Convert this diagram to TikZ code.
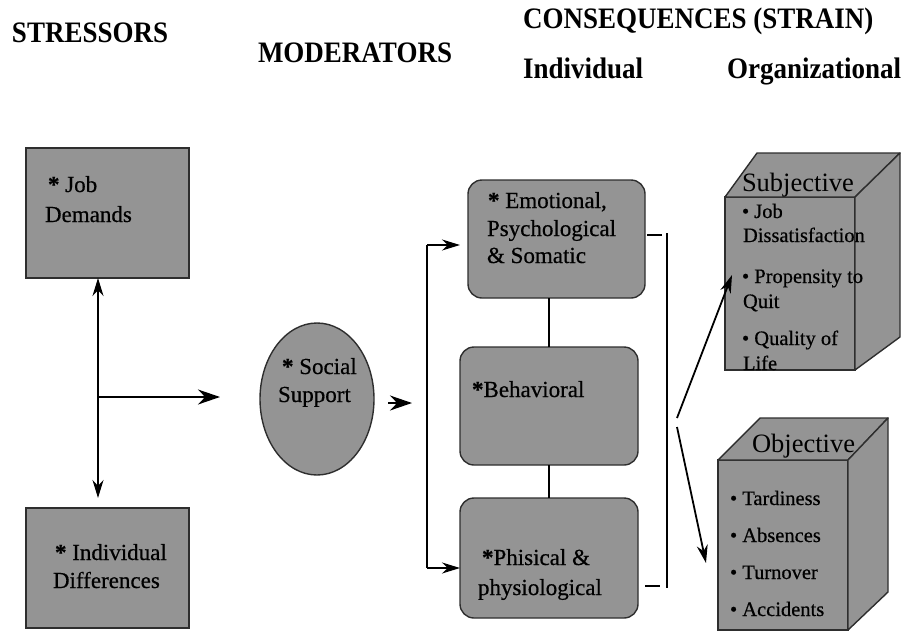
\documentclass[tikz,border=0pt]{standalone}
\usepackage{fontspec}
\setmainfont{Liberation Serif}
\newfontfamily\scanserif{Liberation Serif}[FakeBold=0.5]
\usetikzlibrary{arrows.meta,shapes.geometric}
\definecolor{boxgray}{gray}{0.58}
\definecolor{edgegray}{gray}{0.18}
\newcommand{\stressstar}{\textbf{*}}
\begin{document}
\begin{tikzpicture}[x=1pt,y=-1pt,
  every node/.style={inner sep=0pt, outer sep=0pt},
  head/.style={anchor=base west, font=\fontsize{27}{30}\selectfont\bfseries},
  body/.style={anchor=base west, font=\fontsize{23}{28}\selectfont\scanserif},
  item/.style={anchor=base west, font=\fontsize{20.5}{24}\selectfont\scanserif},
  cubetitle/.style={anchor=base west, font=\fontsize{26.5}{30}\selectfont},
  sqbox/.style={draw=edgegray, line width=1.4pt, fill=boxgray, rectangle},
  rbox/.style={sqbox, rounded corners=14pt},
  face/.style={draw=edgegray, line width=1.4pt, fill=boxgray, line join=round},
  conn/.style={line width=1.6pt},
  arr/.style={line width=1.8pt, -{Stealth[length=18pt,width=11pt]}},
  bigarr/.style={line width=1.8pt, -{Stealth[length=22pt,width=15pt]}},
]
\useasboundingbox (0,0) rectangle (910,632);

% headings
\node[head] (hs) at (12,42) {\scalebox{1}[1.1]{STRESSORS}};
\node[head] (hm) at (258,62) {\scalebox{1}[1.1]{MODERATORS}};
\node[head] (hc) at (523,28) {\scalebox{1}[1.1]{CONSEQUENCES (STRAIN)}};
\node[head] (hi) at (523,78) {\scalebox{1}[1.1]{Individual}};
\node[head] (ho) at (727,78) {\scalebox{1}[1.1]{Organizational}};

% stressors
\node[sqbox, minimum width=163pt, minimum height=130pt] (jd) at (107.5,213) {};
\node[body] (jd1) at (48,192) {\stressstar\ Job};
\node[body] (jd2) at (45,222) {Demands};
\node[sqbox, minimum width=163pt, minimum height=120pt] (id) at (107.5,568) {};
\node[body] (id1) at (55,560) {\stressstar\ Individual};
\node[body] (id2) at (53,588) {Differences};

% moderator
\node[draw=edgegray, line width=1.4pt, fill=boxgray, ellipse, minimum width=114pt, minimum height=152pt] (ss) at (317,399) {};
\node[body] (ss1) at (282,374) {\stressstar\ Social};
\node[body] (ss2) at (278,402) {Support};

% individual consequences
\node[rbox, minimum width=177pt, minimum height=118pt] (emo) at (556.5,239) {};
\node[body] (emo1) at (488,208) {\stressstar\ Emotional,};
\node[body] (emo2) at (487,236) {Psychological};
\node[body] (emo3) at (487,263) {\& Somatic};
\node[rbox, minimum width=178pt, minimum height=118pt] (beh) at (549,406) {};
\node[body] (beh1) at (472,397) {\stressstar Behavioral};
\node[rbox, minimum width=178pt, minimum height=120pt] (phy) at (549,558) {};
\node[body] (phy1) at (482,565) {\stressstar Phisical \&};
\node[body] (phy2) at (478,595) {physiological};

% subjective cube
\node[sqbox, minimum width=130pt, minimum height=173pt] (subj) at (790,283.5) {};
\filldraw[face] (subj.north west) -- (757,153) -- (900,153) -- (subj.north east) -- cycle;
\filldraw[face] (subj.north east) -- (900,153) -- (900,337) -- (subj.south east) -- cycle;
\node[cubetitle] (st) at (742,191) {Subjective};
\node[item] (s1) at (742,218) {\textbullet\ Job};
\node[item] (s2) at (743,242) {Dissatisfaction};
\node[item] (s3) at (742,283) {\textbullet\ Propensity to};
\node[item] (s4) at (743,308) {Quit};
\node[item] (s5) at (742,345) {\textbullet\ Quality of};
\node[item] (s6) at (743,370) {Life};

% objective cube
\node[sqbox, minimum width=130pt, minimum height=170pt] (obj) at (783,545) {};
\filldraw[face] (obj.north west) -- (760,418) -- (888,418) -- (obj.north east) -- cycle;
\filldraw[face] (obj.north east) -- (888,418) -- (888,592) -- (obj.south east) -- cycle;
\node[cubetitle] (ot) at (752,452) {Objective};
\node[item] (o1) at (730,505) {\textbullet\ Tardiness};
\node[item] (o2) at (730,542) {\textbullet\ Absences};
\node[item] (o3) at (730,579) {\textbullet\ Turnover};
\node[item] (o4) at (730,616) {\textbullet\ Accidents};

% stressor connectors
\coordinate (vj) at (98,397);
\coordinate (hx) at (220,397);
\draw[arr] (vj) -- (vj |- jd.south);
\draw[arr, shorten >=10pt] (vj) -- (vj |- id.north);
\draw[bigarr] (vj) -- (hx);

% moderator to consequences
\coordinate (ma) at (388,403);
\coordinate (mb) at (412,403);
\draw[bigarr] (ma) -- (mb);

% left bracket
\coordinate (lb1) at (427,245);
\coordinate (lb2) at (427,568);
\draw[conn] (lb1) -- (lb2);
\draw[arr, shorten >=8pt] (lb1) -- (emo.west |- lb1);
\draw[arr] (lb2) -- (phy.west |- lb2);

% middle connectors
\draw[conn] (beh.north) -- (beh.north |- emo.south);
\draw[conn] (beh.south) -- (phy.north);

% right bracket
\coordinate (rt1) at (647,235);
\coordinate (rt2) at (662,235);
\coordinate (rb1) at (645,586);
\coordinate (rb2) at (660,586);
\coordinate (rv1) at (667,233);
\coordinate (rv2) at (667,588);
\draw[conn] (rt1) -- (rt2);
\draw[conn] (rb1) -- (rb2);
\draw[line width=2.2pt] (rv1) -- (rv2);

% to organizational
\coordinate (da) at (677,418);
\coordinate (ua) at (732,275);
\coordinate (db) at (677,427);
\coordinate (ub) at (706,563);
\draw[arr] (da) -- (ua);
\draw[arr] (db) -- (ub);
\end{tikzpicture}
\end{document}
